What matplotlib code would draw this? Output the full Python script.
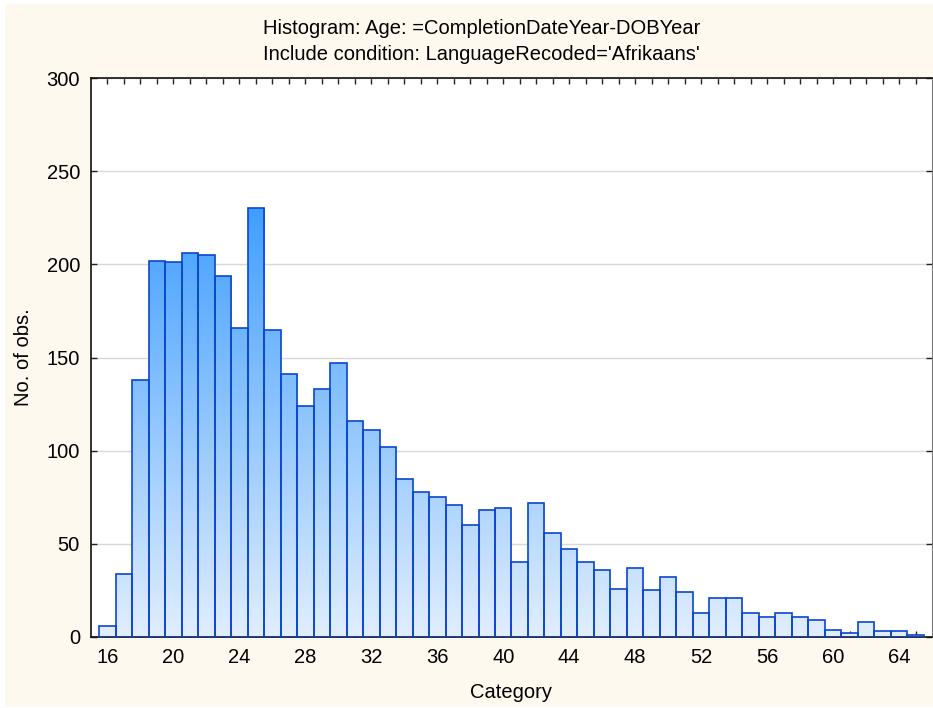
import numpy as np
import matplotlib
matplotlib.use("Agg")
import matplotlib.pyplot as plt
from matplotlib.colors import LinearSegmentedColormap
from matplotlib.patches import Rectangle

# ---- data ----
categories = list(range(16, 66))
counts = [6, 34, 138, 202, 201, 206, 205, 194, 166, 230,
          165, 141, 124, 133, 147, 116, 111, 102, 85, 78,
          75, 71, 60, 68, 69, 40, 72, 56, 47, 40,
          36, 26, 37, 25, 32, 24, 13, 21, 21, 13,
          11, 13, 11, 9, 4, 2, 8, 3, 3, 1]
xtick_values = list(range(16, 65, 4))
ytick_values = [0, 50, 100, 150, 200, 250, 300]
title_lines = ["Histogram: Age: =CompletionDateYear-DOBYear",
               "Include condition: LanguageRecoded='Afrikaans'"]
xlabel = "Category"
ylabel = "No. of obs."

plt.rcParams['font.family'] = ['Liberation Sans', 'DejaVu Sans']

W, H = 933, 708
fig = plt.figure(figsize=(W / 100, H / 100), dpi=100, facecolor='white')
fig.patches.append(Rectangle((5 / W, 1 / H), 1 - 5 / W, 1 - 5 / H, transform=fig.transFigure,
                             facecolor='#fdf9ee', edgecolor='none', zorder=-10))

L, R, T, B = 91, 932, 78, 637
ax = fig.add_axes([L / W, 1 - B / H, (R - L) / W, (B - T) / H])
ax.set_facecolor('white')

cmap = LinearSegmentedColormap.from_list('g', ['#e1eefd', '#3a9bff'])
grad = np.linspace(0, 1, 256).reshape(-1, 1)

bars = ax.bar(categories, counts, width=1.0, facecolor='none',
              edgecolor='#0b46d0', linewidth=1.2, zorder=3)
for b in bars:
    im = ax.imshow(grad, extent=(15, 66, 0, 240), origin='lower', cmap=cmap,
                   aspect='auto', zorder=2, interpolation='bilinear')
    im.set_clip_path(b)

ax.set_xlim(15, 66)
ax.set_ylim(0, 300)
ax.set_xticks(xtick_values)
ax.set_xticks(categories, minor=True)
ax.set_yticks(ytick_values)
ax.yaxis.grid(True, color='#d8d8d8', linewidth=1.0, zorder=0)
ax.set_axisbelow(True)

fs = 14.5
ax.tick_params(axis='x', which='both', direction='in', top=True, bottom=True,
               length=4, width=1, labelsize=fs, pad=8, color='#222222')
ax.tick_params(axis='y', which='both', direction='in', left=True, right=True,
               length=4, width=1, labelsize=fs, pad=8, color='#222222')

for s in ['left', 'bottom', 'top']:
    ax.spines[s].set_color('#111111')
    ax.spines[s].set_linewidth(1.2)
ax.spines['right'].set_color('#777777')

ax.set_xlabel(xlabel, fontsize=fs, va='baseline')
ax.xaxis.set_label_coords(0.5, -(697.5 - B) / (B - T))
ax.set_ylabel(ylabel, fontsize=fs, va='center', ha='center')
ax.yaxis.set_label_coords(-(L - 24) / (R - L), 0.5 + (357.5 - (T + B) / 2) / -(B - T))

fig.text(481.5 / W, 1 - 33.5 / H, title_lines[0], ha='center', va='baseline', fontsize=fs)
fig.text(481.5 / W, 1 - 59.5 / H, title_lines[1], ha='center', va='baseline', fontsize=fs)

fig.savefig('out.png', dpi=100, facecolor=fig.get_facecolor())
